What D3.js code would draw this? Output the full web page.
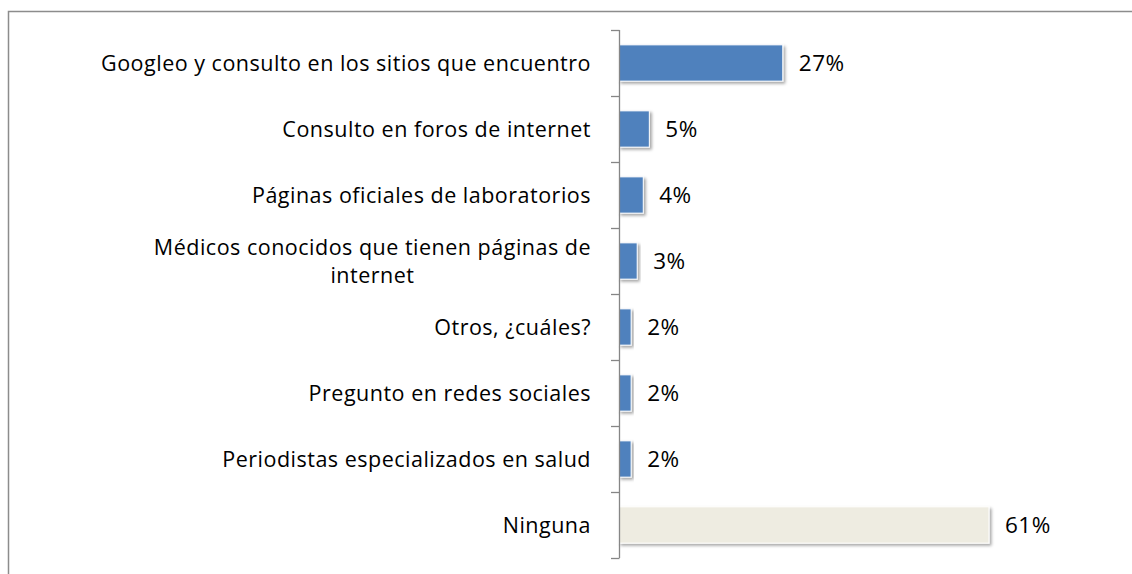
<!DOCTYPE html>
<html>
<head>
  <meta charset="utf-8">
  <style>
    body { margin: 0; background: #fff; }
    svg { display: block; }
    .label, .value { font-family: "Open Sans", sans-serif; fill: #000; letter-spacing: 0.5px; }
  </style>
  <script src="https://cdn.jsdelivr.net/npm/d3@7"></script>
</head>
<body>
  <script>
    const categories = [
      ["Googleo y consulto en los sitios que encuentro"],
      ["Consulto en foros de internet"],
      ["Páginas oficiales de laboratorios"],
      ["Médicos conocidos que tienen páginas de", "internet"],
      ["Otros, ¿cuáles?"],
      ["Pregunto en redes sociales"],
      ["Periodistas especializados en salud"],
      ["Ninguna"]
    ];
    const values = [27, 5, 4, 3, 2, 2, 2, 61];
    const colors = ["#4f81bd", "#4f81bd", "#4f81bd", "#4f81bd", "#4f81bd", "#4f81bd", "#4f81bd", "#eeece1"];

    const width = 1132, height = 574;
    const svg = d3.select("body").append("svg")
      .attr("width", width)
      .attr("height", height);

    // drop shadow like the office chart
    const defs = svg.append("defs");
    const f = defs.append("filter").attr("id", "shadow")
      .attr("x", "-10%").attr("y", "-20%").attr("width", "130%").attr("height", "160%");
    f.append("feDropShadow")
      .attr("dx", 2).attr("dy", 2).attr("stdDeviation", 1.5)
      .attr("flood-color", "#000").attr("flood-opacity", 0.35);

    // outer chart frame (goes off the page on right/bottom)
    svg.append("rect")
      .attr("x", 8.5).attr("y", 11.5)
      .attr("width", 1140).attr("height", 580)
      .attr("fill", "none")
      .attr("stroke", "#8c8c8c")
      .attr("stroke-width", 1.5);

    const axisX = 619;
    const y = d3.scaleBand()
      .domain(d3.range(categories.length))
      .range([30, 558])
      .paddingInner(0.45)
      .paddingOuter(0.225);

    const x = d3.scaleLinear()
      .domain([0, 61])
      .range([axisX, 989]);

    const g = svg.append("g");

    g.selectAll("rect.bar")
      .data(values)
      .join("rect")
      .attr("class", "bar")
      .attr("x", x(0))
      .attr("y", (d, i) => y(i))
      .attr("width", d => x(d) - x(0))
      .attr("height", y.bandwidth())
      .attr("fill", (d, i) => colors[i])
      .attr("stroke", "#fff")
      .attr("stroke-width", 1)
      .attr("filter", "url(#shadow)");

    // axis line and ticks at band edges
    const step = y.step();
    const tickYs = d3.range(categories.length + 1).map(i => 30 + i * step);
    g.append("line")
      .attr("x1", axisX + 0.5).attr("x2", axisX + 0.5)
      .attr("y1", 30).attr("y2", 558)
      .attr("stroke", "#868686").attr("stroke-width", 1.3);
    g.selectAll("line.tick")
      .data(tickYs)
      .join("line")
      .attr("class", "tick")
      .attr("x1", axisX - 8).attr("x2", axisX + 0.5)
      .attr("y1", d => d + 0.5).attr("y2", d => d + 0.5)
      .attr("stroke", "#868686").attr("stroke-width", 1.3);

    // category labels
    const fs = 21.5;
    const labels = g.selectAll("text.label")
      .data(categories)
      .join("text")
      .attr("class", "label")
      .attr("font-size", fs)
      .attr("y", (d, i) => y(i) + y.bandwidth() / 2);

    labels.each(function (lines, i) {
      const t = d3.select(this);
      const lh = 28;
      if (lines.length === 1) {
        t.append("tspan")
          .attr("x", 591).attr("dy", "0.36em")
          .attr("text-anchor", "end")
          .text(lines[0]);
      } else {
        // wrapped label: right aligned block, centred lines
        const tmp = t.append("tspan").text(lines[0]);
        const w = this.getComputedTextLength();
        tmp.remove();
        const cx = 591 - w / 2;
        lines.forEach((s, k) => {
          t.append("tspan")
            .attr("x", cx)
            .attr("text-anchor", "middle")
            .attr("dy", k === 0 ? (-(lines.length - 1) * lh / 2 + 0.36 * fs) : lh)
            .text(s);
        });
      }
    });

    // value labels
    g.selectAll("text.value")
      .data(values)
      .join("text")
      .attr("class", "value")
      .attr("font-size", 22.5)
      .attr("x", d => x(d) + 16)
      .attr("y", (d, i) => y(i) + y.bandwidth() / 2)
      .attr("dy", "0.37em")
      .text(d => d + "%");
  </script>
</body>
</html>
